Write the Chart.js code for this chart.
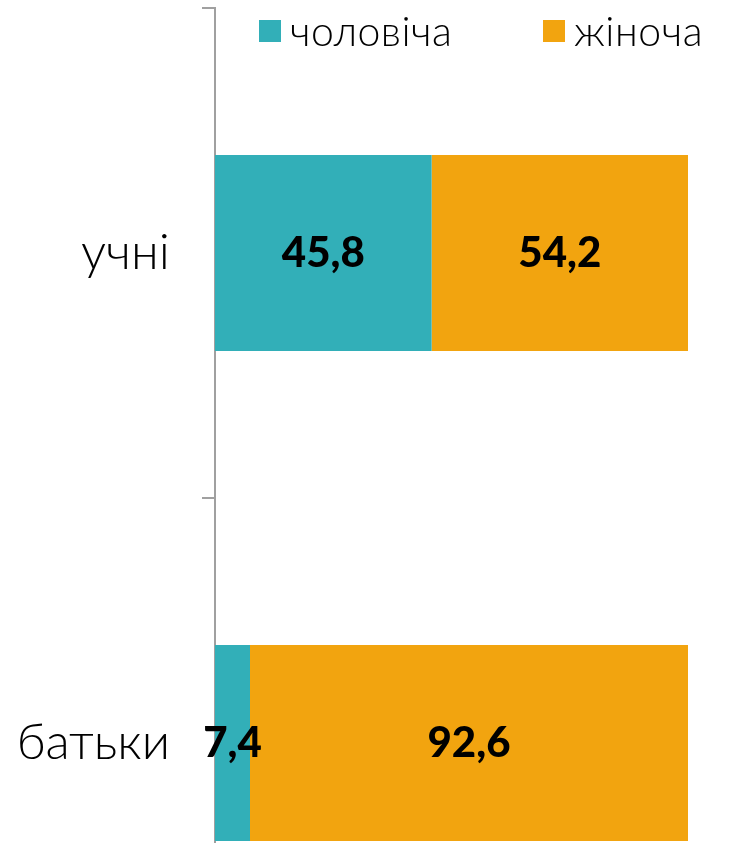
<!DOCTYPE html>
<html>
<head>
<meta charset="utf-8">
<script src="https://cdn.jsdelivr.net/npm/chart.js@4.4.1/dist/chart.umd.min.js"></script>
<style>
  html, body { margin: 0; padding: 0; background: #fff; overflow: hidden; }
  #wrap { position: relative; width: 750px; height: 843px; overflow: hidden; }
  #chart { position: absolute; left: 0; top: 0; }
  .legend-item { position: absolute; top: 6px; display: flex; align-items: center;
    font-family: Lato, sans-serif; font-weight: 300; font-size: 41px; color: #000; letter-spacing: 0.5px; }
  .legend-item span.box { display: inline-block; width: 22px; height: 22px; margin-right: 9px; }
</style>
</head>
<body>
<div id="wrap">
  <canvas id="chart" width="750" height="988"></canvas>
</div>
<script>
// categories and series
const categories = ["учні", "батьки"];
const seriesNames = ["чоловіча", "жіноча"];
const maleValues = [45.8, 7.4];
const femaleValues = [54.2, 92.6];
const colors = ["#32AFB8", "#F2A40F"];
const legendLeft = [259, 543];

// html legend on top of the chart
const wrap = document.getElementById("wrap");
seriesNames.forEach((name, i) => {
    const item = document.createElement("div");
    item.className = "legend-item";
    item.style.left = legendLeft[i] + "px";
    item.innerHTML = '<span class="box" style="background:' + colors[i] + '"></span>' + name;
    wrap.appendChild(item);
});

// draw value labels in the middle of each segment
const valueLabels = {
    id: "valueLabels",
    afterDatasetsDraw(chart) {
        const ctx = chart.ctx;
        ctx.save();
        ctx.font = "900 42px Lato";
        ctx.fillStyle = "#000";
        ctx.textAlign = "center";
        ctx.textBaseline = "middle";
        chart.data.datasets.forEach((ds, di) => {
            chart.getDatasetMeta(di).data.forEach((bar, i) => {
                const p = bar.getCenterPoint();
                ctx.fillText(String(ds.data[i]).replace(".", ","), p.x, p.y);
            });
        });
        ctx.restore();
    }
};

new Chart(document.getElementById("chart").getContext("2d"), {
    type: "bar",
    data: {
        labels: categories,
        datasets: [
            { label: seriesNames[0], data: maleValues, backgroundColor: colors[0] },
            { label: seriesNames[1], data: femaleValues, backgroundColor: colors[1] }
        ]
    },
    options: {
        indexAxis: "y",
        responsive: false,
        animation: false,
        categoryPercentage: 1,
        barPercentage: 0.4,
        layout: { padding: { top: 8, right: 62, bottom: 0, left: 0 } },
        plugins: {
            legend: { display: false },
            tooltip: { enabled: false }
        },
        scales: {
            x: { stacked: true, min: 0, max: 100, display: false },
            y: {
                stacked: true,
                afterFit: (scale) => {
                    scale.width = 215;
                    scale.paddingTop = 0;
                    scale.paddingBottom = 0;
                },
                grid: {
                    drawOnChartArea: false,
                    drawTicks: true,
                    tickLength: 13,
                    color: "#a0a0a0",
                    lineWidth: 2
                },
                border: { color: "#a0a0a0", width: 2 },
                ticks: {
                    padding: 32,
                    color: "#000",
                    font: { family: "Lato", size: 50, weight: 300 }
                }
            }
        }
    },
    plugins: [valueLabels]
});
</script>
</body>
</html>
